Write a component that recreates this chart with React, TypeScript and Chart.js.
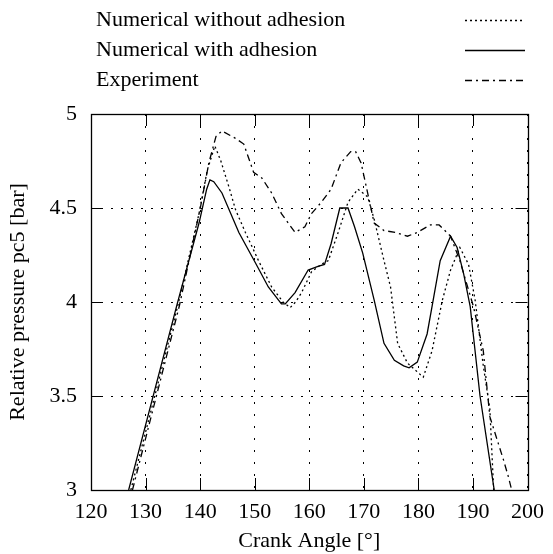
import React, { useEffect, useRef } from "react";
import { Chart, registerables } from "chart.js";

Chart.register(...registerables);

const withoutAdhesionAngle = [127.3, 135.9, 139.8, 141.3, 142.7, 143.8, 145.3, 146.5, 148.3, 150.7, 153.1, 155.2, 156.5, 157.5, 158.6, 160.4, 162.2, 163.5, 165.3, 167.1, 168.9, 170.7, 171.9, 173.7, 174.9, 176.2, 178, 180.9, 182.5, 184.4, 185.9, 187.6, 189.2, 190.4, 191.9, 193.1, 193.8];
const withoutAdhesionPressure = [3, 3.98, 4.47, 4.7, 4.83, 4.75, 4.61, 4.49, 4.37, 4.22, 4.08, 4.0, 3.97, 4.0, 4.05, 4.16, 4.2, 4.22, 4.37, 4.53, 4.6, 4.56, 4.44, 4.22, 4.08, 3.78, 3.675, 3.6, 3.74, 4.01, 4.17, 4.29, 4.2, 4.01, 3.66, 3.43, 3.0];

const withAdhesionAngle = [126.9, 135.8, 139.8, 141.2, 141.8, 142.5, 144, 147.1, 150.1, 152.5, 154.9, 155.6, 157.4, 159.8, 161.6, 162.8, 164, 165.6, 167.1, 168.3, 169.8, 171.9, 173.7, 175.6, 177.3, 178.3, 179.8, 181.6, 182.5, 184, 185.9, 187.1, 188.3, 189.5, 191.3, 193.9];
const withAdhesionPressure = [3, 3.99, 4.42, 4.6, 4.65, 4.64, 4.58, 4.37, 4.21, 4.08, 3.99, 3.99, 4.05, 4.17, 4.19, 4.2, 4.31, 4.5, 4.5, 4.4, 4.26, 4.01, 3.78, 3.69, 3.66, 3.65, 3.68, 3.83, 3.975, 4.22, 4.35, 4.29, 4.15, 3.975, 3.5, 3.0];

const experimentAngle = [127.6, 136.2, 140.1, 141.6, 142.9, 144, 146.5, 148, 149.8, 151.3, 153.1, 154.9, 157.4, 159.2, 160.4, 162.2, 164, 165.8, 167.6, 168.5, 169.5, 170.7, 171.9, 173.7, 175.8, 178, 179.8, 182.2, 183.8, 185.9, 187.6, 190.1, 191.9, 193.1, 195.6, 196.5, 197.1];
const experimentPressure = [3, 3.98, 4.51, 4.74, 4.88, 4.91, 4.87, 4.84, 4.69, 4.66, 4.58, 4.47, 4.37, 4.4, 4.47, 4.53, 4.6, 4.74, 4.8, 4.8, 4.74, 4.58, 4.42, 4.38, 4.37, 4.35, 4.37, 4.41, 4.41, 4.35, 4.22, 3.975, 3.74, 3.39, 3.16, 3.07, 3.0];

const seriesLabels = ["Numerical without adhesion", "Numerical with adhesion", "Experiment"];
const xTitle = "Crank Angle [°]";
const yTitle = "Relative pressure pc5 [bar]";

const FONT = "'Liberation Serif', 'Times New Roman', serif";
const FS = 22;
const DOTTED = [2, 3];
const DASHDOT = [7, 4, 2, 4];
const dashes = [DOTTED, [], DASHDOT];

const toPoints = (xs: number[], ys: number[]) => xs.map((x, i) => ({ x, y: ys[i] }));

const framePlugin = {
  id: "frame",
  afterDraw(chart: any) {
    const { ctx, chartArea } = chart;
    const { left, right, top, bottom } = chartArea;
    const xs = chart.scales.x;
    const ys = chart.scales.y;
    const tl = 12;
    ctx.save();
    ctx.strokeStyle = "#000";
    ctx.lineWidth = 1;
    ctx.setLineDash([]);
    ctx.beginPath();
    xs.ticks.forEach((t: any) => {
      const px = Math.round(xs.getPixelForValue(t.value)) + 0.5;
      ctx.moveTo(px, bottom);
      ctx.lineTo(px, bottom - tl);
      ctx.moveTo(px, top);
      ctx.lineTo(px, top + tl);
    });
    ys.ticks.forEach((t: any) => {
      const py = Math.round(ys.getPixelForValue(t.value)) + 0.5;
      ctx.moveTo(left, py);
      ctx.lineTo(left + tl, py);
      ctx.moveTo(right, py);
      ctx.lineTo(right - tl, py);
    });
    ctx.stroke();
    ctx.lineWidth = 1.3;
    ctx.strokeRect(Math.round(left) + 0.5, Math.round(top) + 0.5, Math.round(right - left), Math.round(bottom - top));

    // legend
    ctx.font = `${FS}px ${FONT}`;
    ctx.fillStyle = "#000";
    ctx.textBaseline = "alphabetic";
    ctx.textAlign = "left";
    const textY = [26, 56, 86];
    const lineY = [20.5, 50.5, 80.5];
    seriesLabels.forEach((lab, i) => {
      ctx.fillText(lab, 96, textY[i]);
      ctx.beginPath();
      ctx.setLineDash(dashes[i]);
      ctx.lineWidth = 1.3;
      ctx.moveTo(465, lineY[i]);
      ctx.lineTo(525, lineY[i]);
      ctx.stroke();
    });
    ctx.restore();
  },
};

export default function App() {
  const ref = useRef<HTMLCanvasElement | null>(null);
  useEffect(() => {
    if (!ref.current) return;
    const mk = (i: number, xs: number[], ys: number[]) => ({
      label: seriesLabels[i],
      data: toPoints(xs, ys),
      borderColor: "#000",
      backgroundColor: "#000",
      borderWidth: 1.3,
      borderDash: dashes[i],
      pointRadius: 0,
      tension: 0,
      fill: false,
    });
    const chart = new Chart(ref.current, {
      type: "line",
      data: {
        datasets: [
          mk(0, withoutAdhesionAngle, withoutAdhesionPressure),
          mk(1, withAdhesionAngle, withAdhesionPressure),
          mk(2, experimentAngle, experimentPressure),
        ],
      },
      options: {
        animation: false,
        responsive: true,
        maintainAspectRatio: false,
        layout: { padding: { left: 0, right: 22, top: 114, bottom: 0 } },
        plugins: { legend: { display: false }, tooltip: { enabled: false } },
        scales: {
          x: {
            type: "linear",
            min: 120,
            max: 200,
            afterFit: (s: any) => { s.height = 64; },
            ticks: { stepSize: 10, color: "#000", font: { family: FONT, size: FS }, padding: 9, maxRotation: 0 },
            grid: { color: "#000", lineWidth: 1, drawTicks: false },
            border: { display: false, dash: [2, 10] },
            title: { display: true, text: xTitle, color: "#000", font: { family: FONT, size: FS }, padding: { top: 0, bottom: 0 } },
          },
          y: {
            type: "linear",
            min: 3,
            max: 5,
            afterFit: (s: any) => { s.width = 91; },
            ticks: { stepSize: 0.5, color: "#000", font: { family: FONT, size: FS }, padding: 14, callback: (v: any) => String(v) },
            grid: { color: "#000", lineWidth: 1, drawTicks: false },
            border: { display: false, dash: [2, 8] },
            title: { display: true, text: yTitle, color: "#000", font: { family: FONT, size: FS }, padding: { top: 5, bottom: 0 } },
          },
        },
      },
      plugins: [framePlugin],
    });
    return () => chart.destroy();
  }, []);
  return (
    <div style={{ position: "fixed", left: 0, top: 0, width: 553, height: 554, background: "#fff" }}>
      <canvas ref={ref} />
    </div>
  );
}
